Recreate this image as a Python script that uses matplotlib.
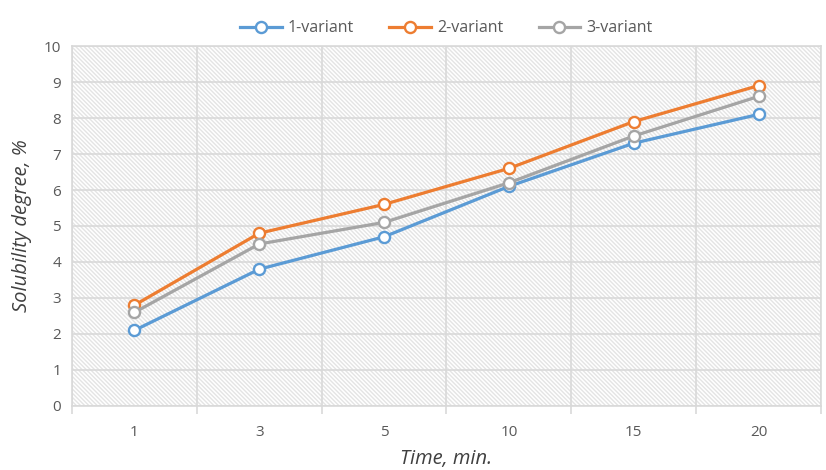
import matplotlib.pyplot as plt
from matplotlib.patches import Rectangle

times = ["1", "3", "5", "10", "15", "20"]
variant1 = [2.1, 3.8, 4.7, 6.1, 7.3, 8.1]
variant2 = [2.8, 4.8, 5.6, 6.6, 7.9, 8.9]
variant3 = [2.6, 4.5, 5.1, 6.2, 7.5, 8.6]
names = ["1-variant", "2-variant", "3-variant"]
colors = ["#5b9bd5", "#ed7d31", "#a5a5a5"]

plt.rcParams['font.family'] = ['Open Sans', 'DejaVu Sans']
plt.rcParams['hatch.linewidth'] = 1.0

fig = plt.figure(figsize=(8.26, 4.70), dpi=100)
ax = fig.add_axes([0.0872, 0.1362, 0.9067, 0.7659])

# hatched background
bg = Rectangle((0, 0), 1, 1, transform=ax.transAxes, facecolor="white",
               edgecolor="#e4e4e4", hatch="\\" * 8, linewidth=0, zorder=0)
ax.add_patch(bg)

x = range(len(times))
for vals, name, c in zip([variant1, variant2, variant3], names, colors):
    ax.plot(x, vals, color=c, linewidth=2.3, marker="o", markersize=8,
            markerfacecolor="white", markeredgecolor=c, markeredgewidth=1.7,
            label=name, zorder=3)

ax.set_xlim(-0.5, len(times) - 0.5)
ax.set_ylim(0, 10)
ax.set_yticks(range(0, 11))
ax.set_xticks(list(x))
ax.set_xticklabels(times)
ax.set_xticks([i + 0.5 for i in range(-1, len(times))], minor=True)

ax.grid(True, which="major", axis="y", color="#d9d9d9", linewidth=1.2, zorder=1)
ax.grid(True, which="minor", axis="x", color="#d9d9d9", linewidth=1.2, zorder=1)
ax.set_axisbelow(True)

ax.tick_params(axis="y", length=0, labelsize=11, labelcolor="#595959", pad=8)
ax.tick_params(axis="x", which="major", length=0, labelsize=11, labelcolor="#595959", pad=14)
ax.tick_params(axis="x", which="minor", length=6, color="#d9d9d9", width=1.2)

for s in ax.spines.values():
    s.set_color("#d9d9d9")
    s.set_linewidth(1.2)

ax.set_xlabel("Time, min.", fontsize=14.5, style="italic", color="#404040", labelpad=6)
ax.set_ylabel("Solubility degree, %", fontsize=14.5, style="italic", color="#404040", labelpad=8)

ax.legend(loc="lower center", bbox_to_anchor=(0.5, 1.0), ncol=3, frameon=False,
          fontsize=11.5, labelcolor="#595959", handlelength=2.6, handletextpad=0.4,
          columnspacing=2.2, borderaxespad=0.2)

fig.savefig("out.png", dpi=100)
